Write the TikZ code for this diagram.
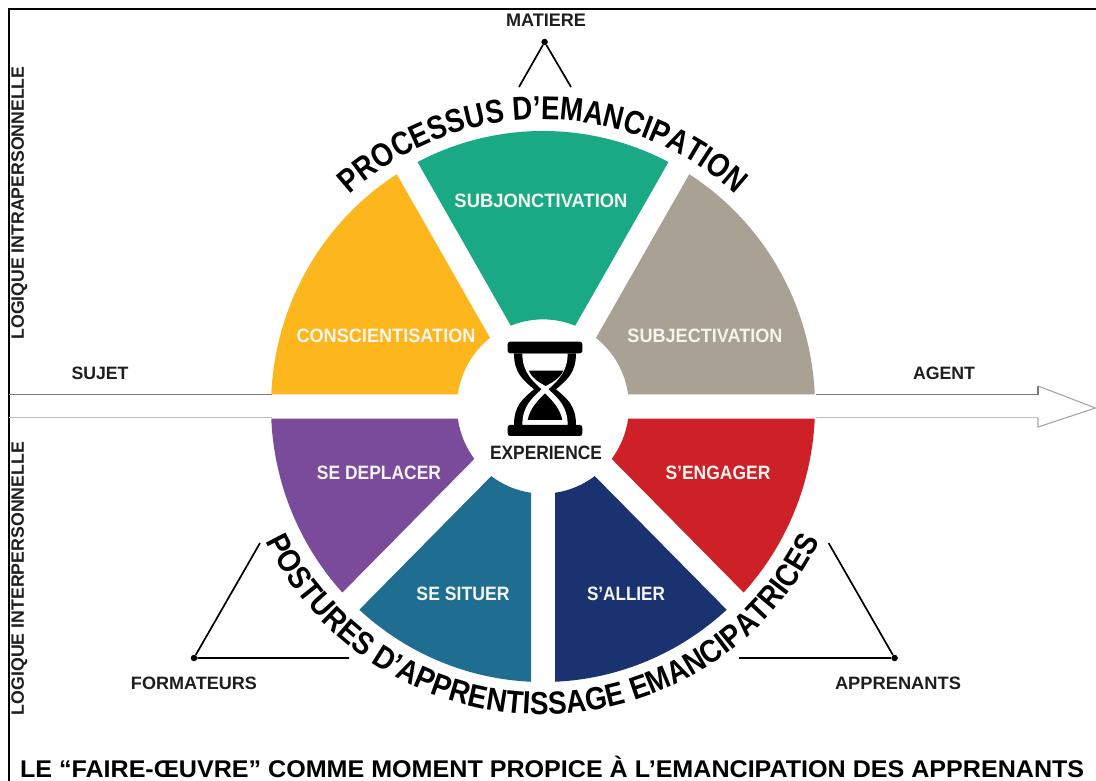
\documentclass[tikz,border=0pt]{standalone}
\usepackage{fontspec}
\setmainfont{Liberation Sans}
\newfontfamily\arcfont[FakeStretch=0.84]{Liberation Sans Bold}
\newfontfamily\arcfontb[FakeStretch=0.875]{Liberation Sans Bold}
\usetikzlibrary{decorations.text}
\definecolor{cyellow}{HTML}{FDB71D}
\definecolor{cgreen}{HTML}{19AA85}
\definecolor{cgray}{HTML}{A9A193}
\definecolor{cpurple}{HTML}{7B4B9B}
\definecolor{cblue}{HTML}{1F6E91}
\definecolor{cnavy}{HTML}{1A3270}
\definecolor{cred}{HTML}{CD2027}
\definecolor{ink}{HTML}{1E1E1E}
\definecolor{offwhite}{HTML}{F4F4F0}
\newcommand{\fitlabel}[3]{\resizebox{#1pt}{#2pt}{\bfseries #3}}
\newcommand{\wedgepart}[5]{\fill[#1] (#2:272pt) arc[start angle=#2,end angle=#3,radius=272pt] -- (#5:86pt) arc[start angle=#5,end angle=#4,radius=86pt] -- cycle;}
\tikzset{
  lab/.style={inner sep=0pt,outer sep=0pt,text=ink},
  wlab/.style={inner sep=0pt,outer sep=0pt,text=offwhite},
  thin line/.style={draw=black,line width=1.7pt},
  dotted end/.style={circle,fill=black,inner sep=0pt,minimum size=6.5pt},
  framing/.style={draw=black,line width=2pt},
}
\begin{document}
\begin{tikzpicture}[x=1pt,y=-1pt]
\useasboundingbox (0,0) rectangle (1096,781);
\fill[white] (0,0) rectangle (1096,781);
% frame
\draw[framing] (1096,9.5) -- (8.5,9.5) -- (8.5,781);
% axis
\draw[draw=gray!95!black,line width=1.2pt] (9,394.5) -- (272,394.5);
\draw[draw=gray!50,line width=1.2pt] (9,417.5) -- (272,417.5);
\draw[draw=gray!95!black,line width=1.2pt] (816,394.5) -- (1038,394.5) -- (1038,386);
\draw[draw=gray!70,line width=1.1pt] (1038,386) -- (1095.5,408) -- (1038,427) -- (1038,417.5);
\draw[draw=gray!50,line width=1.2pt] (816,417.5) -- (1038,417.5);
% wheel
\begin{scope}[shift={(543,406.5)}]
\begin{scope}[yscale=1.013]
\wedgepart{cyellow}{122.53}{177.47}{128.02}{171.98}
\wedgepart{cgreen}{62.53}{117.47}{68.02}{111.98}
\wedgepart{cgray}{2.53}{57.47}{8.02}{51.98}
\wedgepart{cpurple}{182.53}{222.47}{188.02}{216.98}
\wedgepart{cblue}{227.53}{267.47}{233.02}{261.98}
\wedgepart{cnavy}{272.53}{312.47}{278.02}{306.98}
\wedgepart{cred}{317.53}{357.47}{323.02}{351.98}
\end{scope}
\path[decorate,decoration={text along path,text align=center,
  text={|\arcfont\fontsize{33}{33}\selectfont\color{black}|PROCESSUS D’EMANCIPATION}}]
  (140:287pt) arc[start angle=140,end angle=40,radius=287pt];
\path[decorate,decoration={text along path,text align=center,
  text={|\arcfontb\fontsize{32}{32}\selectfont\color{black}|POSTURES D’APPRENTISSAGE EMANCIPATRICES}}]
  (195:308pt) arc[start angle=195,end angle=345,radius=308pt];
\end{scope}
% hourglass
\begin{scope}[shift={(460,330)},x=0.3333pt,y=-0.3333pt]
\fill[black] (162,70) .. controls (162,130) and (190,150) .. (222,178) .. controls (190,205) and (162,225) .. (162,285) -- (348,285) .. controls (348,225) and (320,205) .. (288,178) .. controls (320,150) and (348,130) .. (348,70) -- cycle;
\fill[white] (187,70) .. controls (187,125) and (215,150) .. (245,178) .. controls (215,205) and (187,230) .. (187,285) -- (323,285) .. controls (323,230) and (295,205) .. (265,178) .. controls (295,150) and (323,125) .. (323,70) -- cycle;
\fill[black] (207,122) -- (310,122) .. controls (300,145) and (280,155) .. (257,168) .. controls (235,155) and (215,145) .. (207,122) -- cycle;
\fill[black] (203,270) .. controls (210,235) and (235,210) .. (255,190) .. controls (275,210) and (300,235) .. (307,270) -- cycle;
\fill[black,rounded corners=2.5pt] (143,35) rectangle (367,70);
\fill[black,rounded corners=2.5pt] (143,285) rectangle (367,318);
\end{scope}
% labels
\node[wlab] (conscientisation) at (386,336) {\fitlabel{179}{13.5}{CONSCIENTISATION}};
\node[wlab] (subjonctivation) at (541,201) {\fitlabel{173}{13.5}{SUBJONCTIVATION}};
\node[wlab] (subjectivation) at (705,336) {\fitlabel{155}{13.5}{SUBJECTIVATION}};
\node[wlab] (deplacer) at (379,473) {\fitlabel{124}{13.5}{SE DEPLACER}};
\node[wlab] (engager) at (718,473) {\fitlabel{105}{13.5}{S’ENGAGER}};
\node[wlab] (situer) at (463,594) {\fitlabel{93}{13.5}{SE SITUER}};
\node[wlab] (allier) at (626,594) {\fitlabel{78}{13.5}{S’ALLIER}};
\node[lab] (experience) at (546,453) {\fitlabel{112}{13.5}{EXPERIENCE}};
\node[lab] (sujet) at (100,373) {\fitlabel{57}{12.5}{SUJET}};
\node[lab] (agent) at (944,373) {\fitlabel{62}{12.5}{AGENT}};
\node[lab] (matiere) at (546,20) {\fitlabel{80}{12.5}{MATIERE}};
\node[lab] (formateurs) at (194,683) {\fitlabel{126}{12.5}{FORMATEURS}};
\node[lab] (apprenants) at (898,683) {\fitlabel{126}{12.5}{APPRENANTS}};
\node[lab,rotate=90] (intra) at (19.5,203) {\fitlabel{273}{12.5}{LOGIQUE INTRAPERSONNELLE}};
\node[lab,rotate=90] (inter) at (19.5,578.5) {\fitlabel{273}{12.5}{LOGIQUE INTERPERSONNELLE}};
\node[lab,anchor=base west,text=black] (title) at (20,777) {\resizebox{1064pt}{21.4pt}{\bfseries LE “FAIRE-ŒUVRE” COMME MOMENT PROPICE À L’EMANCIPATION DES APPRENANTS}};
% triangles
\node[dotted end] (matdot) at (544.6,42) {};
\coordinate (mata) at (519,87);
\coordinate (matb) at (571,87);
\draw[thin line] (mata) -- (matdot) -- (matb);
\node[dotted end] (fordot) at (194,658) {};
\coordinate (fora) at (260,543);
\coordinate (forb) at (349,658);
\draw[thin line] (fora) -- (fordot) -- (forb);
\node[dotted end] (appdot) at (894.6,658) {};
\coordinate (appa) at (828.6,543);
\coordinate (appb) at (739,658);
\draw[thin line] (appa) -- (appdot) -- (appb);
\end{tikzpicture}
\end{document}
